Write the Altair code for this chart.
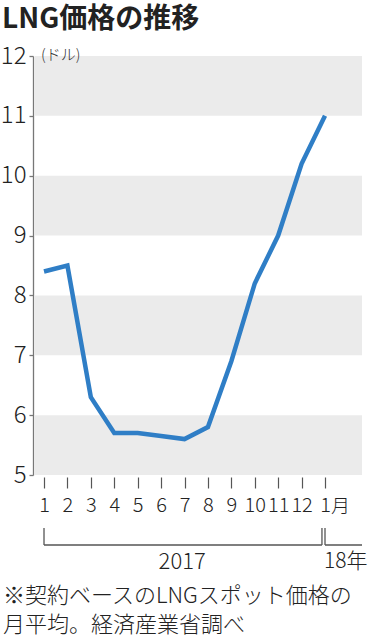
import altair as alt
import pandas as pd

months = list(range(13))
month_labels = ["1", "2", "3", "4", "5", "6", "7", "8", "9", "10", "11", "12", "1"]
prices = [8.4, 8.5, 6.3, 5.7, 5.7, 5.65, 5.6, 5.8, 6.9, 8.2, 9.0, 10.2, 11.0]
band_lo = [5, 7, 9, 11]
band_hi = [6, 8, 10, 12]
y_ticks = [5, 6, 7, 8, 9, 10, 11, 12]

title = "LNG価格の推移"
unit = "(ドル)"
year_labels = ["2017", "18年"]
note_lines = ["※契約ベースのLNGスポット価格の", "月平均。経済産業省調べ"]

W, H = 329, 419
XMIN, XMAX = -0.47, 13.58
FONT = "Noto Sans CJK JP"
NUM = "Noto Sans CJK JP"

df = pd.DataFrame({"m": months, "label": month_labels, "v": prices})
bands = pd.DataFrame({"lo": band_lo, "hi": band_hi})

xs = alt.Scale(domain=[XMIN, XMAX], nice=False, zero=False)
ys = alt.Scale(domain=[5, 12], nice=False, zero=False)

label_expr = "[" + ",".join(f"'{l}'" for l in month_labels) + "][datum.value]"

x_axis = alt.Axis(values=months, labelExpr=label_expr, domain=False, grid=False,
                  ticks=True, tickSize=11, tickColor="#555", tickWidth=1.2, offset=2,
                  labelFont=NUM, labelFontSize=20, labelFontWeight=300, labelColor="#222",
                  labelPadding=7, labelFlush=False, labelOverlap=False, title=None)
y_axis = alt.Axis(values=y_ticks, domain=True, domainColor="#777", domainWidth=1.3,
                  grid=False, tickSize=4, tickColor="#777", tickWidth=1.3,
                  labelFont=NUM, labelFontSize=24, labelFontWeight=300, labelColor="#222",
                  labelPadding=3, labelFlush=False, labelOverlap=False, title=None)

band_layer = alt.Chart(bands).mark_rect(color="#ebebeb").encode(
    x=alt.value(2), x2=alt.value(W),
    y=alt.Y("lo:Q", scale=ys, axis=y_axis), y2="hi:Q",
)

line = alt.Chart(df).mark_line(color="#2f7ec6", strokeWidth=4.5, strokeJoin="miter").encode(
    x=alt.X("m:Q", scale=xs, axis=x_axis),
    y=alt.Y("v:Q", scale=ys, axis=y_axis),
)

tsuki = alt.Chart(pd.DataFrame({"m": [12], "t": ["月"]})).mark_text(
    font=FONT, fontSize=19, fontWeight=300, align="left", baseline="middle", color="#222", dx=6
).encode(x=alt.X("m:Q", scale=xs, axis=x_axis), y=alt.value(H + 32), text="t:N")

# year bracket
br_h = pd.DataFrame({"a": [0, 12], "b": [11.87, XMAX]})
br_v = pd.DataFrame({"a": [0, 11.87, 12]})
bracket_h = alt.Chart(br_h).mark_rule(color="#555", strokeWidth=1.3).encode(
    x=alt.X("a:Q", scale=xs, axis=x_axis), x2="b:Q", y=alt.value(489))
bracket_v = alt.Chart(br_v).mark_rule(color="#555", strokeWidth=1.3).encode(
    x=alt.X("a:Q", scale=xs, axis=x_axis), y=alt.value(472), y2=alt.value(489))

years = pd.DataFrame({"m": [5.9, 12], "t": year_labels})
year_2017 = alt.Chart(years.iloc[[0]]).mark_text(
    font=NUM, fontSize=22, fontWeight=300, align="center", baseline="middle", color="#222"
).encode(x=alt.X("m:Q", scale=xs, axis=x_axis), y=alt.value(506), text="t:N")
year_18 = alt.Chart(years.iloc[[1]]).mark_text(
    font=NUM, fontSize=21, fontWeight=300, align="left", baseline="middle", color="#222", dx=-1
).encode(x=alt.X("m:Q", scale=xs, axis=x_axis), y=alt.value(506), text="t:N")

title_t = alt.Chart(pd.DataFrame({"t": [title]})).mark_text(
    font=FONT, fontSize=28, fontWeight="bold", align="left", baseline="alphabetic", color="#222"
).encode(x=alt.value(-31), y=alt.value(-28), text="t:N")

unit_t = alt.Chart(pd.DataFrame({"t": [unit]})).mark_text(
    font=FONT, fontSize=15, fontWeight=300, align="left", baseline="middle", color="#333"
).encode(x=alt.value(8), y=alt.value(-1), text="t:N")

note1 = alt.Chart(pd.DataFrame({"t": [note_lines[0]]})).mark_text(
    font=FONT, fontSize=22, fontWeight=300, align="left", baseline="middle", color="#222"
).encode(x=alt.value(-30), y=alt.value(540), text="t:N")
note2 = alt.Chart(pd.DataFrame({"t": [note_lines[1]]})).mark_text(
    font=FONT, fontSize=22, fontWeight=300, align="left", baseline="middle", color="#222"
).encode(x=alt.value(-30), y=alt.value(569), text="t:N")

chart = alt.layer(
    band_layer, line, tsuki, bracket_h, bracket_v, year_2017, year_18, title_t, unit_t, note1, note2
).properties(
    width=W, height=H,
    autosize=alt.AutoSizeParams(type="none"),
    padding={"left": 33, "top": 56, "right": 10, "bottom": 165},
    background="white",
).configure_view(stroke=None)

chart.save("out.html", embed_options={"renderer": "svg", "actions": False})
